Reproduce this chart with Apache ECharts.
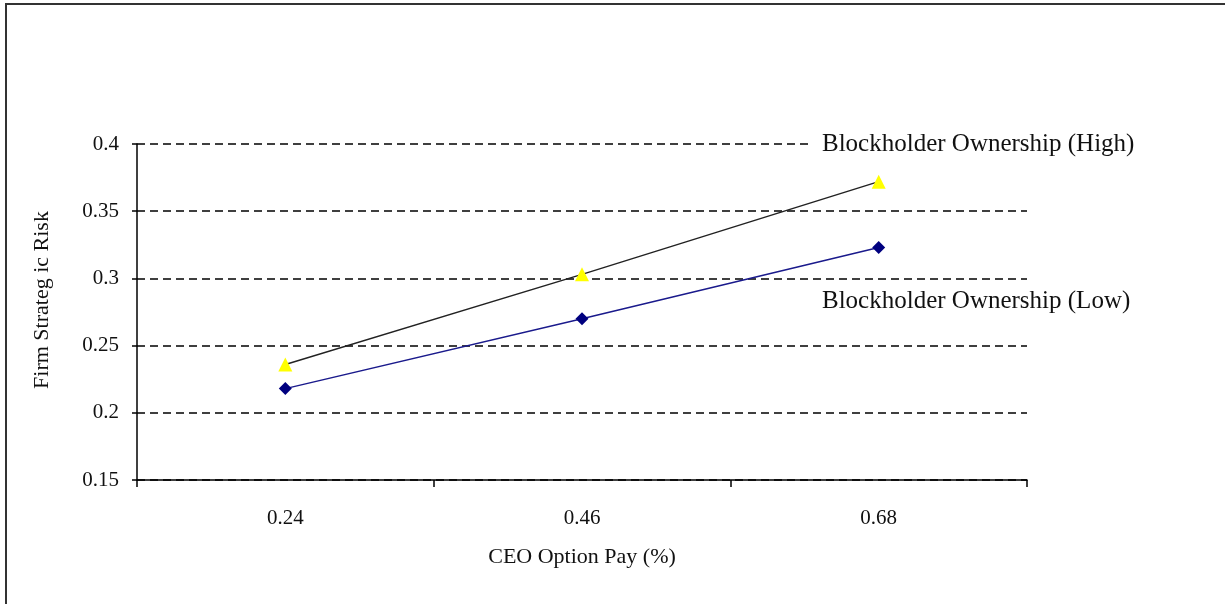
<!DOCTYPE html>
<html>
<head>
<meta charset="utf-8">
<script src="https://cdn.jsdelivr.net/npm/echarts@6/dist/echarts.min.js"></script>
<style>
  html, body { margin: 0; padding: 0; background: #fff; }
  #chart { width: 1225px; height: 604px; }
</style>
</head>
<body>
<div id="chart"></div>
<script>
// CEO option pay levels (x categories)
const optionPay = ['0.24', '0.46', '0.68'];
// Firm strategic risk by blockholder ownership level
const highBlockholder = [0.236, 0.303, 0.372];
const lowBlockholder = [0.218, 0.270, 0.323];
// Value axis ticks
const yMin = 0.15, yMax = 0.4, yStep = 0.05;

const serif = '"Liberation Serif", "DejaVu Serif", serif';
const chart = echarts.init(document.getElementById('chart'));

chart.setOption({
  animation: false,
  backgroundColor: '#ffffff',
  grid: { left: 137, right: 198, top: 144, bottom: 124, containLabel: false },
  xAxis: {
    type: 'category',
    data: optionPay,
    boundaryGap: true,
    name: 'CEO Option Pay (%)',
    nameLocation: 'middle',
    nameGap: 66,
    nameTextStyle: { fontFamily: serif, fontSize: 22, color: '#111' },
    axisLine: { lineStyle: { color: '#000', width: 1.5 } },
    axisTick: { show: true, alignWithLabel: false, length: 7, lineStyle: { color: '#000', width: 1.5 } },
    axisLabel: { fontFamily: serif, fontSize: 21, color: '#111', margin: 28 },
    splitLine: { show: false }
  },
  yAxis: {
    type: 'value',
    min: yMin,
    max: yMax,
    interval: yStep,
    name: 'Firm Strateg ic Risk',
    nameLocation: 'middle',
    nameGap: 84,
    nameRotate: 90,
    nameTextStyle: { fontFamily: serif, fontSize: 22, color: '#111', padding: [0, 0, 0, 24] },
    axisLine: { show: true, lineStyle: { color: '#000', width: 1.5 } },
    axisTick: { show: true, length: 5, lineStyle: { color: '#000', width: 1.5 } },
    axisLabel: {
      fontFamily: serif, fontSize: 21, color: '#111', margin: 18,
      formatter: v => String(parseFloat(v.toFixed(2)))
    },
    splitLine: {
      show: true,
      lineStyle: { color: '#000', width: 1.5, type: [8, 5] }
    }
  },
  series: [
    {
      name: 'Blockholder Ownership (High)',
      type: 'line',
      data: highBlockholder,
      symbol: 'triangle',
      symbolSize: 14,
      lineStyle: { color: '#222', width: 1.5 },
      itemStyle: { color: '#ffff00' },
      z: 3
    },
    {
      name: 'Blockholder Ownership (Low)',
      type: 'line',
      data: lowBlockholder,
      symbol: 'diamond',
      symbolSize: 13,
      lineStyle: { color: '#1a1a8c', width: 1.5 },
      itemStyle: { color: '#00007f' },
      z: 3
    }
  ],
  graphic: [
    // frame lines along top and left
    { type: 'rect', shape: { x: 5, y: 3, width: 1220, height: 2 }, style: { fill: '#333' }, z: 10 },
    { type: 'rect', shape: { x: 5, y: 3, width: 2, height: 601 }, style: { fill: '#333' }, z: 10 },
    // series labels
    {
      type: 'text', left: 810, top: 132, z: 10,
      style: {
        text: 'Blockholder Ownership (High)', fontFamily: serif, fontSize: 25, fill: '#111',
        backgroundColor: '#fff', padding: [0, 4, 0, 12]
      }
    },
    {
      type: 'text', left: 810, top: 289, z: 10,
      style: {
        text: 'Blockholder Ownership (Low)', fontFamily: serif, fontSize: 25, fill: '#111',
        backgroundColor: '#fff', padding: [0, 4, 0, 12]
      }
    }
  ]
});
</script>
</body>
</html>
